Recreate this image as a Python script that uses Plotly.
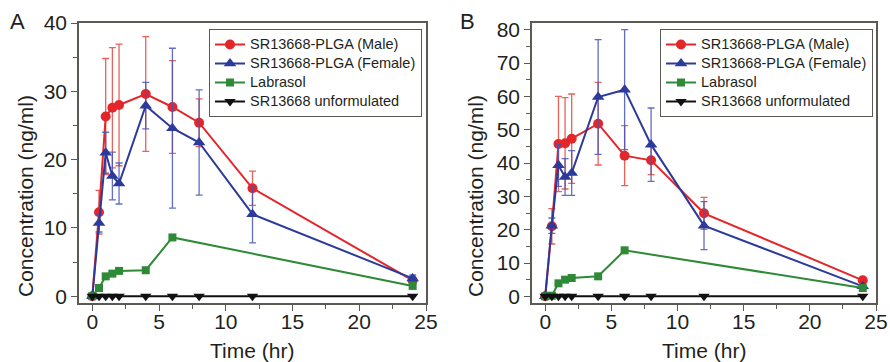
import plotly.graph_objects as go

# ---------------- data ----------------
time = [0, 0.5, 1, 1.5, 2, 4, 6, 8, 12, 24]
time_labrasol = [0, 0.5, 1, 1.5, 2, 4, 6, 24]

series_names = ["SR13668-PLGA (Male)", "SR13668-PLGA (Female)", "Labrasol", "SR13668 unformulated"]

# Panel A
a_male = [0, 12.3, 26.3, 27.6, 28.0, 29.6, 27.7, 25.4, 15.8, 2.3]
a_male_sd = [0, 3.2, 8.5, 8.8, 8.9, 8.4, 6.8, 3.5, 2.5, 0.6]
a_female = [0, 10.7, 21.0, 17.6, 16.5, 27.9, 24.6, 22.5, 12.0, 2.6]
a_female_sd = [0, 1.3, 3.0, 3.5, 3.0, 3.4, 11.7, 7.7, 4.2, 0.5]
a_labrasol = [0, 1.2, 2.9, 3.3, 3.7, 3.8, 8.6, 1.5]
a_unform = [0, 0, 0, 0, 0, 0, 0, 0, 0, 0]

# Panel B
b_male = [0, 21.0, 45.7, 45.9, 47.3, 51.8, 42.2, 40.8, 24.9, 4.8]
b_male_sd = [0, 5.3, 14.3, 13.7, 13.4, 12.4, 9.0, 4.3, 4.8, 0.5]
b_female = [0, 21.2, 39.3, 35.8, 37.0, 59.8, 62.0, 45.5, 21.2, 3.0]
b_female_sd = [0, 2.3, 6.3, 5.5, 6.7, 17.2, 18.0, 11.0, 7.2, 0.5]
b_labrasol = [0, 0.2, 3.9, 5.0, 5.5, 6.0, 13.8, 2.5]
b_unform = [0, 0, 0, 0, 0, 0, 0, 0, 0, 0]

# ---------------- style ----------------
RED = "#e3262a"
BLUE = "#2b3a9b"
GREEN = "#2e8a36"
BLACK = "#111111"
RED_ERR = "rgba(228,70,60,0.85)"
BLUE_ERR = "rgba(70,85,185,0.85)"
FONT = "Arial, Liberation Sans, sans-serif"
TXT = "#231f20"
FRAME = "#5a5a55"


def legend_label(s):
    return '<span style="font-size:14.5px">' + s + '</span>'


fig = go.Figure()


def add_panel(xa, ya, legend, male, male_sd, female, female_sd, lab, unf):
    fig.add_trace(go.Scatter(
        x=time, y=male, name=legend_label(series_names[0]), xaxis=xa, yaxis=ya, legend=legend,
        mode="lines+markers", line=dict(color=RED, width=2),
        marker=dict(symbol="circle", size=10, color=RED),
        error_y=dict(type="data", array=male_sd, visible=True, color=RED_ERR, thickness=1.3, width=3.5),
    ))
    fig.add_trace(go.Scatter(
        x=time, y=female, name=legend_label(series_names[1]), xaxis=xa, yaxis=ya, legend=legend,
        mode="lines+markers", line=dict(color=BLUE, width=2),
        marker=dict(symbol="triangle-up", size=11, color=BLUE),
        error_y=dict(type="data", array=female_sd, visible=True, color=BLUE_ERR, thickness=1.3, width=3.5),
    ))
    fig.add_trace(go.Scatter(
        x=time_labrasol, y=lab, name=legend_label(series_names[2]), xaxis=xa, yaxis=ya, legend=legend,
        mode="lines+markers", line=dict(color=GREEN, width=2),
        marker=dict(symbol="square", size=8, color=GREEN),
    ))
    fig.add_trace(go.Scatter(
        x=time, y=unf, name=legend_label(series_names[3]), xaxis=xa, yaxis=ya, legend=legend,
        mode="lines+markers", line=dict(color=BLACK, width=2),
        marker=dict(symbol="triangle-down", size=10, color=BLACK),
    ))


add_panel("x", "y", "legend", a_male, a_male_sd, a_female, a_female_sd, a_labrasol, a_unform)
add_panel("x2", "y2", "legend2", b_male, b_male_sd, b_female, b_female_sd, b_labrasol, b_unform)

W, H = 890, 362
L, R, T, B = 79, 14, 23, 59
pw, ph = W - L - R, H - T - B


def px(xpix):
    return (xpix - L) / pw


def py(ypix):
    return (H - B - ypix) / ph


axis_common = dict(
    showline=True, mirror=True, linecolor=FRAME, linewidth=1.5,
    ticks="outside", ticklen=6, tickwidth=1.3, tickcolor=FRAME,
    showgrid=False, zeroline=False,
    tickfont=dict(family=FONT, size=21, color=TXT),
    automargin=False,
)

xa_common = dict(axis_common, range=[-1, 25], tickmode="linear", tick0=0, dtick=5,
                 ticklabelstandoff=-7,
                 minor=dict(ticks="outside", ticklen=4, tickwidth=1.1, tickcolor=FRAME, dtick=2.5, tick0=0))

leg_common = dict(xanchor="left", yanchor="top", bgcolor="white", bordercolor=FRAME, borderwidth=1,
                  font=dict(family=FONT, size=12, color=TXT), tracegroupgap=0, itemwidth=30)

fig.update_layout(
    width=W, height=H,
    margin=dict(l=L, r=R, t=T, b=B),
    paper_bgcolor="white", plot_bgcolor="white",
    font=dict(family=FONT, color=TXT),
    xaxis=dict(xa_common, domain=[0, px(426)], anchor="y"),
    xaxis2=dict(xa_common, domain=[px(532), 1], anchor="y2"),
    yaxis=dict(axis_common, range=[-1, 40], tickmode="linear", tick0=0, dtick=10, anchor="x",
               minor=dict(ticks="outside", ticklen=4, tickwidth=1.1, tickcolor=FRAME, dtick=5, tick0=0)),
    yaxis2=dict(axis_common, range=[-2, 82], tickmode="linear", tick0=0, dtick=10, anchor="x2",
                minor=dict(ticks="outside", ticklen=4, tickwidth=1.1, tickcolor=FRAME, dtick=5, tick0=0)),
    legend=dict(leg_common, x=px(209), y=py(29)),
    legend2=dict(leg_common, x=px(660), y=py(29)),
)

ann = dict(xref="paper", yref="paper", showarrow=False, font=dict(family=FONT, size=21, color=TXT))
fig.add_annotation(ann, text="A", x=px(18), y=py(21), xanchor="center", yanchor="middle", font=dict(family=FONT, size=22, color=TXT))
fig.add_annotation(ann, text="B", x=px(467), y=py(21), xanchor="center", yanchor="middle", font=dict(family=FONT, size=22, color=TXT))
fig.add_annotation(ann, text="Time (hr)", x=px(252), y=py(350), xanchor="center", yanchor="middle")
fig.add_annotation(ann, text="Time (hr)", x=px(704), y=py(350), xanchor="center", yanchor="middle")
fig.add_annotation(ann, text="Concentration (ng/ml)", x=px(25), y=py(196), textangle=-90, xanchor="center", yanchor="middle")
fig.add_annotation(ann, text="Concentration (ng/ml)", x=px(475), y=py(196), textangle=-90, xanchor="center", yanchor="middle")

fig.write_html("out.html", config={"displayModeBar": False},
               post_script="document.body.style.margin='0';document.body.style.overflow='hidden';")
